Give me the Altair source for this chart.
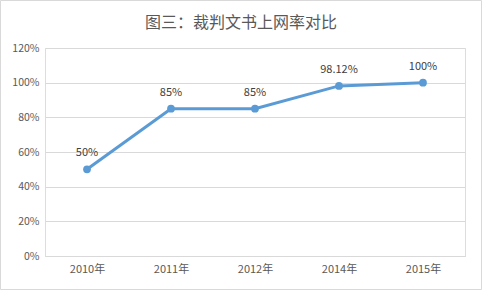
import altair as alt
import pandas as pd

years = ["2010年", "2011年", "2012年", "2014年", "2015年"]
rates = [0.50, 0.85, 0.85, 0.9812, 1.00]
labels = ["50%", "85%", "85%", "98.12%", "100%"]
title_text = ["图三：裁判文书上网率对比"]

df = pd.DataFrame({"year": years, "rate": rates, "label": labels})

FONT = "Noto Sans CJK SC"
W, H = 420, 208

x = alt.X("year:N", sort=years,
          scale=alt.Scale(type="point", padding=0.5),
          axis=alt.Axis(title=None, labelAngle=0, ticks=False, domain=True,
                        domainColor="#D9D9D9", labelColor="#595959",
                        labelFontSize=11, labelFont=FONT, labelPadding=7))
y = alt.Y("rate:Q",
          scale=alt.Scale(domain=[0, 1.2], nice=False),
          axis=alt.Axis(title=None, format=".0%", values=[0, 0.2, 0.4, 0.6, 0.8, 1.0, 1.2],
                        ticks=False, domain=False, grid=True, gridColor="#D9D9D9",
                        labelColor="#595959", labelFontSize=10.5, labelFont=FONT,
                        labelPadding=6))

base = alt.Chart(df)

line = base.mark_line(color="#5B9BD5", strokeWidth=3).encode(x=x, y=y)
pts = base.mark_circle(color="#5B9BD5", size=60, opacity=1).encode(x=x, y=y)
txt = base.mark_text(baseline="bottom", dy=-11, fontSize=11, font=FONT,
                     color="#404040").encode(x=x, y=y, text="label:N")

border = alt.Chart(pd.DataFrame({"a": [0]})).mark_rect(
    fill=None, stroke="#D9D9D9", strokeWidth=1).encode(
    x=alt.value(-44.5), x2=alt.value(W + 16.5),
    y=alt.value(-47.5), y2=alt.value(H + 33.5))

title = alt.Chart(pd.DataFrame({"t": title_text})).mark_text(
    font=FONT, fontSize=16, color="#595959", align="center", baseline="middle").encode(
    text="t:N", x=alt.value(196), y=alt.value(-25))

chart = alt.layer(border, line, pts, txt, title).properties(
    width=W, height=H,
    padding={"left": 45, "top": 48, "right": 17, "bottom": 34},
    autosize=alt.AutoSizeParams(type="none"),
).configure_view(stroke=None).configure(background="white")

chart.save("out.html", embed_options={"renderer": "svg", "actions": False})
